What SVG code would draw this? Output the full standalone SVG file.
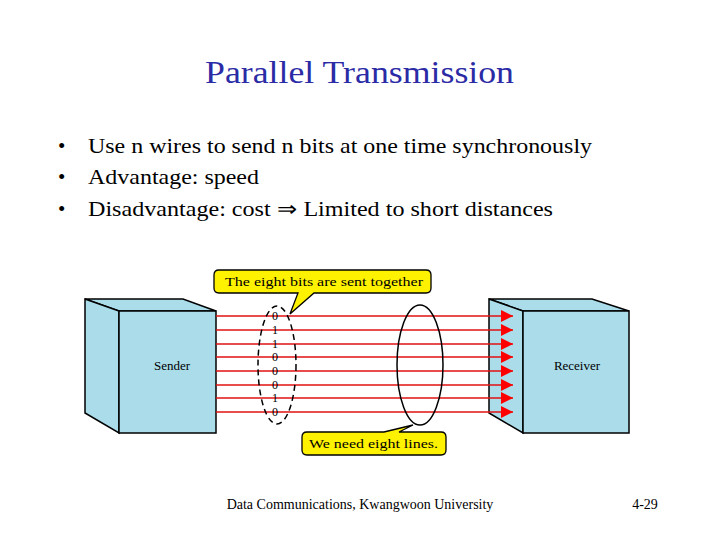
<svg xmlns="http://www.w3.org/2000/svg" width="720" height="540" viewBox="0 0 720 540" font-family="'Liberation Serif','Times New Roman',serif">
<defs>
<style>
text{font-family:'Liberation Serif','Times New Roman',serif;fill:#000}
.box{fill:#aadcea;stroke:#000;stroke-width:1.5}
.w{stroke:#e01010;stroke-width:1.6}
.call{fill:#fff200;stroke:#000;stroke-width:1.3}
</style>
<marker id="ah" viewBox="0 0 10 10" refX="10" refY="5" markerWidth="16" markerHeight="12" markerUnits="userSpaceOnUse" orient="auto"><path d="M0,0L10,5L0,10z" fill="#ff0000"/></marker>
</defs>
<rect width="720" height="540" fill="#fff"/>
<text x="205" y="83" font-size="32" textLength="309" lengthAdjust="spacingAndGlyphs" style="fill:#2b2ba6">Parallel Transmission</text>
<g font-size="21">
<text x="58" y="153">•</text><text x="88" y="153" textLength="504" lengthAdjust="spacingAndGlyphs">Use n wires to send n bits at one time synchronously</text>
<text x="58" y="184">•</text><text x="88" y="184" textLength="171" lengthAdjust="spacingAndGlyphs">Advantage: speed</text>
<text x="58" y="216">•</text><text x="88" y="216" textLength="465" lengthAdjust="spacingAndGlyphs">Disadvantage: cost ⇒ Limited to short distances</text>
</g>
<g id="sender">
<path class="box" d="M85,299L183,299L216,311L119,311Z"/>
<path class="box" d="M85,299L119,311L119,433L85,413Z"/>
<rect class="box" x="119" y="311" width="97" height="122"/>
<text x="172" y="370" text-anchor="middle" font-size="13">Sender</text>
</g>
<g id="receiver">
<path class="box" d="M489,299L592,299L629,311L523,311Z"/>
<path class="box" d="M489,299L523,311L523,433L489,413Z"/>
<rect class="box" x="523" y="311" width="106" height="122"/>
<text x="577" y="370" text-anchor="middle" font-size="13">Receiver</text>
</g>
<g id="connectors">
<line class="w" x1="216" y1="316" x2="513" y2="316" marker-end="url(#ah)"/>
<line class="w" x1="216" y1="330" x2="513" y2="330" marker-end="url(#ah)"/>
<line class="w" x1="216" y1="344" x2="513" y2="344" marker-end="url(#ah)"/>
<line class="w" x1="216" y1="357" x2="513" y2="357" marker-end="url(#ah)"/>
<line class="w" x1="216" y1="371" x2="513" y2="371" marker-end="url(#ah)"/>
<line class="w" x1="216" y1="385" x2="513" y2="385" marker-end="url(#ah)"/>
<line class="w" x1="216" y1="398" x2="513" y2="398" marker-end="url(#ah)"/>
<line class="w" x1="216" y1="412" x2="513" y2="412" marker-end="url(#ah)"/>
</g>
<g id="bits">
<ellipse cx="277" cy="365" rx="19" ry="59" fill="none" stroke="#000" stroke-width="1.5" stroke-dasharray="6,4"/>
<g font-size="12" text-anchor="middle">
<text x="275" y="320">0</text><text x="275" y="334">1</text><text x="275" y="348">1</text><text x="275" y="361">0</text>
<text x="275" y="375">0</text><text x="275" y="389">0</text><text x="275" y="402">1</text><text x="275" y="416">0</text>
</g>
</g>
<g id="lines-ellipse"><ellipse cx="420" cy="365" rx="23" ry="60" fill="none" stroke="#000" stroke-width="1.5"/></g>
<g id="callout-top">
<path class="call" d="M219,270H426Q431,270 431,275V288Q431,293 426,293H314L290,314L298,293H219Q214,293 214,288V275Q214,270 219,270Z"/>
<text x="225" y="286" font-size="13" textLength="198" lengthAdjust="spacingAndGlyphs">The eight bits are sent together</text>
</g>
<g id="callout-bottom">
<path class="call" d="M307,432H384L413,425L399,432H441Q446,432 446,437V450Q446,455 441,455H307Q302,455 302,450V437Q302,432 307,432Z"/>
<text x="309" y="448" font-size="13" textLength="129" lengthAdjust="spacingAndGlyphs">We need eight lines.</text>
</g>
<text x="360" y="509" text-anchor="middle" font-size="14">Data Communications, Kwangwoon University</text>
<text x="645" y="509" text-anchor="middle" font-size="14">4-29</text>
</svg>
